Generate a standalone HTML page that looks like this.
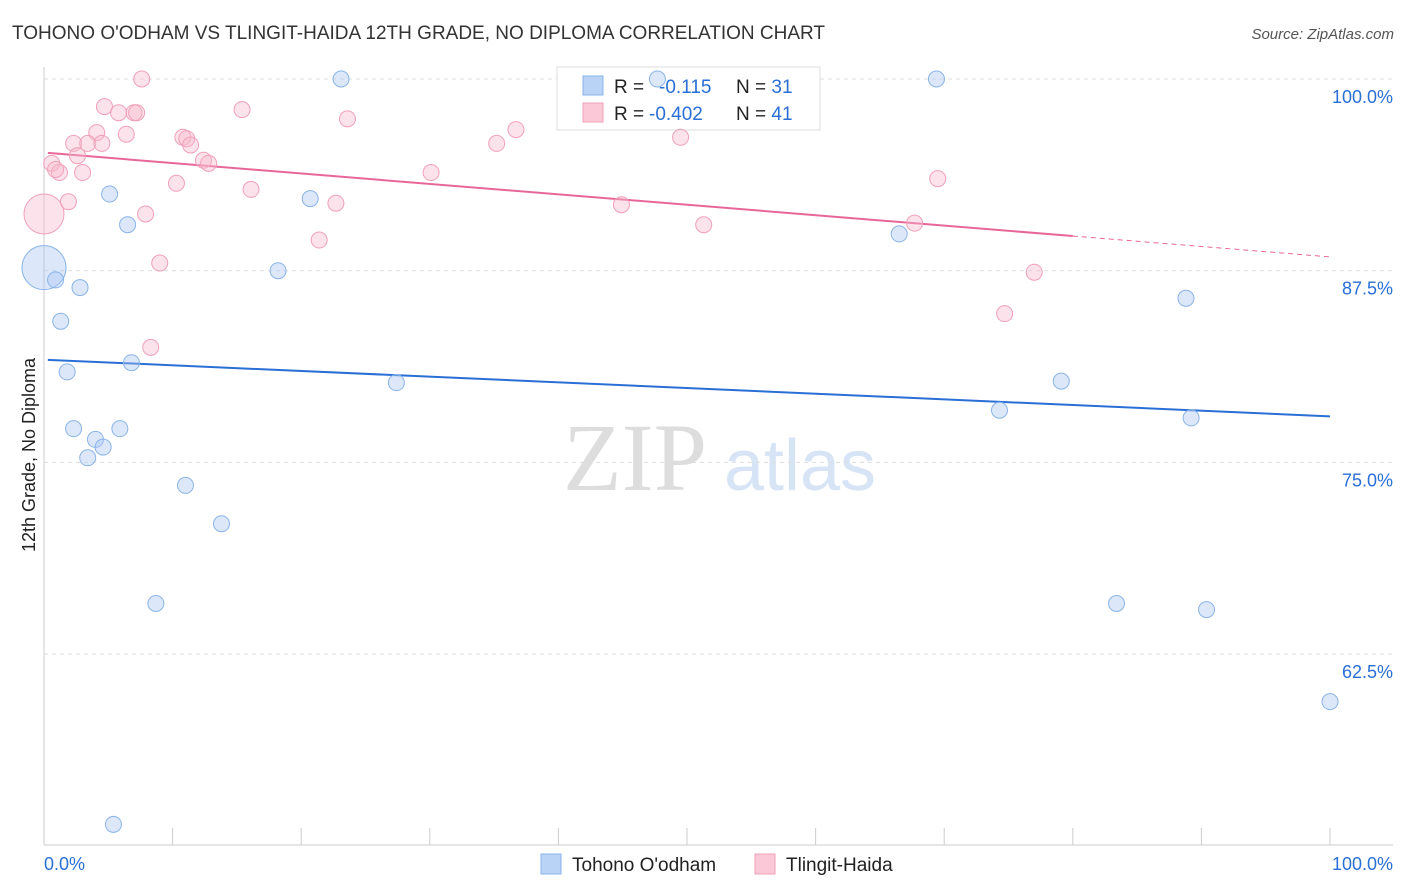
<!DOCTYPE html>
<html><head><meta charset="utf-8"><style>
body{margin:0;background:#fff;font-family:"Liberation Sans",sans-serif;}
svg{display:block}
</style></head><body>
<svg id="chart" width="1406" height="892">
<text x="12" y="39" font-size="19" fill="#333">TOHONO O'ODHAM VS TLINGIT-HAIDA 12TH GRADE, NO DIPLOMA CORRELATION CHART</text>
<text x="1394" y="39" font-size="15" fill="#555" font-style="italic" text-anchor="end">Source: ZipAtlas.com</text>
<text x="35" y="455" font-size="18" fill="#222" text-anchor="middle" transform="rotate(-90 35 455)">12th Grade, No Diploma</text>
<g><text x="635" y="490" font-size="96" fill="#ddd" font-family="Liberation Serif,serif" text-anchor="middle">ZIP</text><text x="800" y="490" font-size="72" fill="#d6e4f5" text-anchor="middle">atlas</text></g>
<g id="grid"></g><g id="axes"></g><g id="lines"></g>
<g>
<rect x="557" y="67" width="263" height="63" fill="#fff" stroke="#ddd"/>
<rect x="583" y="76" width="20" height="19" fill="#b8d3f5" stroke="#8ab4e8"/>
<rect x="583" y="103" width="20" height="19" fill="#fac8d6" stroke="#f0a0b8"/>
<text x="614" y="93" font-size="19" fill="#222">R = <tspan fill="#2a6fd6" x="659">-0.115</tspan><tspan fill="#222" x="736">N = </tspan><tspan fill="#2a6fd6">31</tspan></text>
<text x="614" y="120" font-size="19" fill="#222">R = <tspan fill="#2a6fd6" x="649">-0.402</tspan><tspan fill="#222" x="736">N = </tspan><tspan fill="#2a6fd6">41</tspan></text>
</g>
<g id="pts"></g>
<g>
<rect x="541" y="854" width="20" height="20" fill="#b8d3f5" stroke="#8ab4e8"/>
<text x="572" y="871" font-size="19" fill="#222">Tohono O'odham</text>
<rect x="755" y="854" width="20" height="20" fill="#fac8d6" stroke="#f0a0b8"/>
<text x="786" y="871" font-size="19" fill="#222">Tlingit-Haida</text>
</g>
</svg>
<script>
const yTicks=[100,87.5,75,62.5];
const yTickLabels=["100.0%","87.5%","75.0%","62.5%"];
const xTickLabels=["0.0%","100.0%"];
const blueX=[23.1,47.7,69.4,5.1,6.5,20.7,66.5,0,0.9,2.8,18.2,1.3,88.8,1.8,6.8,27.4,79.1,74.3,89.2,2.3,4.0,5.9,4.6,3.4,11.0,13.8,8.7,83.4,90.4,100,5.4];
const blueY=[100,100,100,92.5,90.5,92.2,89.9,87.7,86.9,86.4,87.5,84.2,85.7,80.9,81.5,80.2,80.3,78.4,77.9,77.2,76.5,77.2,76.0,75.3,73.5,71.0,65.8,65.8,65.4,59.4,51.4];
const blueBig=[7];
const pinkX=[7.6,4.7,15.4,7.0,5.8,7.2,23.6,4.1,6.4,36.7,2.3,3.4,4.5,10.8,11.1,11.4,35.2,49.5,2.6,0.6,12.4,12.8,1.2,3.0,30.1,69.5,10.3,16.1,1.9,22.7,44.9,7.9,0,51.3,67.7,21.4,9.0,77.0,74.7,8.3,0.9];
const pinkY=[100,98.2,98.0,97.8,97.8,97.8,97.4,96.5,96.4,96.7,95.8,95.8,95.8,96.2,96.1,95.7,95.8,96.2,95.0,94.5,94.7,94.5,93.9,93.9,93.9,93.5,93.2,92.8,92.0,91.9,91.8,91.2,91.2,90.5,90.6,89.5,88.0,87.4,84.7,82.5,94.1];
const pinkBig=[32];
const blueTrend=[81.7,78.0];
const pinkTrend=[95.2,88.4];
const NS="http://www.w3.org/2000/svg";
const sx=v=>44+v*12.86, sy=v=>79+(100-v)*15.336;
function mk(parent,tag,attrs){const e=document.createElementNS(NS,tag);for(const k in attrs)e.setAttribute(k,attrs[k]);document.getElementById(parent).appendChild(e);return e;}
yTicks.forEach((t,i)=>{
 const l=mk('grid','line',{x1:44,x2:1393,y1:sy(t),y2:sy(t),stroke:'#ddd','stroke-dasharray':'4,4'});
 
 
 const tx=mk('axes','text',{x:1393,y:sy(t)+24,'font-size':18,fill:'#2a6fd6','text-anchor':'end'});
 tx.textContent=yTickLabels[i];
 
 
});
mk('axes','line',{x1:44,x2:44,y1:67,y2:845,stroke:'#ccc'});
mk('axes','line',{x1:44,x2:1393,y1:845,y2:845,stroke:'#ccc'});
for(let i=0;i<=10;i++){const t=mk('axes','line',{x1:sx(i*10),x2:sx(i*10),y1:828,y2:845,stroke:'#ccc'});}
[[0,'start',44],[100,'end',1393]].forEach((d,i)=>{const tx=mk('axes','text',{x:d[2],y:870,'font-size':18,fill:'#2a6fd6','text-anchor':d[1]});tx.textContent=xTickLabels[i];});
function ty(tr,x){return tr[0]+(tr[1]-tr[0])*x/100;}
const bl=mk('lines','line',{x1:sx(0.3),y1:sy(ty(blueTrend,0.3)),x2:sx(100),y2:sy(ty(blueTrend,100)),stroke:'#2a6fd6','stroke-width':2});


const pl=mk('lines','line',{x1:sx(0.3),y1:sy(ty(pinkTrend,0.3)),x2:sx(80),y2:sy(ty(pinkTrend,80)),stroke:'#e8679a','stroke-width':2});


const pd=mk('lines','line',{x1:sx(80),y1:sy(ty(pinkTrend,80)),x2:sx(100),y2:sy(ty(pinkTrend,100)),stroke:'#e8679a','stroke-width':1,'stroke-dasharray':'5,4'});


blueX.forEach((x,i)=>{const c=mk('pts','circle',{cx:sx(x),cy:sy(blueY[i]),r:blueBig.includes(i)?22:8,fill:'rgba(168,198,242,0.4)',stroke:'#8ab4e8','stroke-width':1});});
pinkX.forEach((x,i)=>{const c=mk('pts','circle',{cx:sx(x),cy:sy(pinkY[i]),r:pinkBig.includes(i)?20:8,fill:'rgba(248,184,204,0.4)',stroke:'#f0a0b8','stroke-width':1});});
</script>
</body></html>
